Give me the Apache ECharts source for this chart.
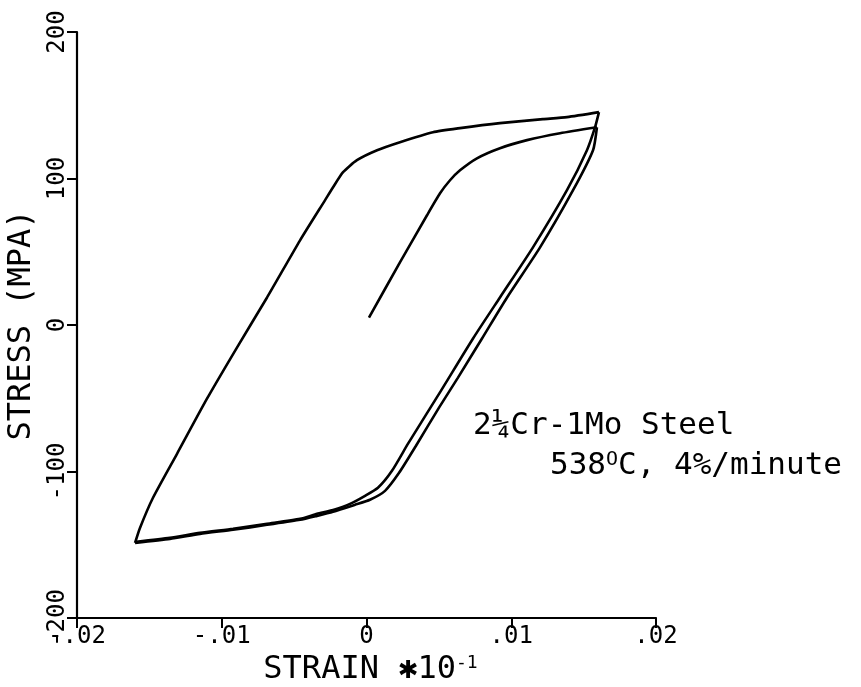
<!DOCTYPE html>
<html><head><meta charset="utf-8">
<script src="https://cdn.jsdelivr.net/npm/echarts@6/dist/echarts.min.js"></script>
<style>html,body{margin:0;padding:0;background:#fff}#c{width:861px;height:687px}</style>
</head><body><div id="c"></div>
<script>
// Tick labels
const xTickLabels = ['-.02', '-.01', '0', '.01', '.02'];
const yTickLabels = ['-200', '-100', '0', '100', '200'];

// Initial loading (strain, stress MPa)
const loadStrain = [0.00017, 0.00231, 0.00418, 0.00508, 0.00577, 0.00646, 0.00763, 0.00922, 0.01109, 0.01337, 0.01592];
const loadStress = [5.1, 42.7, 74.9, 89.9, 98.8, 105.6, 113.8, 120.7, 126.2, 130.9, 135.0];

// First unloading into compression
const unload1Strain = [0.01592, 0.01565, 0.01427, 0.01199, 0.00971, 0.00798, 0.00632, 0.00501, 0.00342, 0.00225, 0.00128, 0.00024, -0.00079, -0.00231, -0.00342, -0.00459, -0.00687, -0.00922, -0.01150, -0.01358, -0.01599];
const unload1Stress = [135.0, 119.3, 92.0, 53.0, 18.8, -9.2, -35.9, -56.4, -82.4, -100.9, -113.2, -119.3, -122.7, -127.5, -130.3, -133.0, -136.4, -139.8, -142.6, -146.0, -148.7];

// Reloading into tension
const reloadStrain = [-0.01599, -0.01565, -0.01475, -0.01309, -0.01102, -0.00895, -0.00687, -0.00459, -0.00287, -0.00231, -0.00162, -0.00066, 0.00073, 0.00231, 0.00459, 0.00646, 0.00922, 0.01219, 0.01385, 0.01606];
const reloadStress = [-148.7, -138.5, -117.9, -87.9, -50.3, -15.4, 18.8, 57.8, 85.1, 94.0, 104.3, 112.5, 119.3, 124.8, 131.6, 134.4, 137.8, 140.5, 141.9, 145.3];

// Second unloading into compression
const unload2Strain = [0.01606, 0.01579, 0.01523, 0.01385, 0.01150, 0.00922, 0.00736, 0.00515, 0.00287, 0.00176, 0.00079, -0.00010, -0.00114, -0.00231, -0.00342, -0.00459, -0.00687, -0.00922, -0.01150, -0.01358, -0.01592];
const unload2Stress = [145.3, 135.0, 119.3, 92.0, 53.0, 18.8, -9.2, -44.8, -81.0, -99.5, -111.1, -116.6, -122.1, -126.2, -128.9, -132.3, -135.7, -139.1, -141.9, -145.3, -148.0];

const zip = (a, b) => a.map((v, i) => [v, b[i]]);
const FONT = '"DejaVu Sans Mono", "Liberation Mono", monospace';

function branch(name, xs, ys) {
  return {
    name, type: 'line', data: zip(xs, ys), showSymbol: false, smooth: 0.2,
    lineStyle: { color: '#000', width: 2.6 }, itemStyle: { color: '#000' },
    silent: true
  };
}

const chart = echarts.init(document.getElementById('c'), null, { renderer: 'canvas' });
chart.setOption({
  animation: false,
  backgroundColor: '#fff',
  grid: { left: 77, right: 205, top: 32, bottom: 69, containLabel: false, outerBoundsMode: 'none' },
  xAxis: {
    type: 'value', min: -0.02, max: 0.02, interval: 0.01,
    splitLine: { show: false },
    axisLine: { show: true, onZero: false, lineStyle: { color: '#000', width: 2.2 } },
    axisTick: { show: true, inside: false, length: 10, lineStyle: { color: '#000', width: 2 } },
    axisLabel: {
      color: '#000', fontFamily: FONT, fontSize: 24, margin: 7,
      formatter: v => { const i = Math.round((v + 0.02) / 0.01); return xTickLabels[i] ?? ''; }
    },
    name: 'STRAIN ✱10{s|-1}',
    nameLocation: 'middle', nameGap: 34,
    nameTextStyle: {
      color: '#000', fontFamily: FONT, fontSize: 32, padding: [0, 0, 0, 8],
      rich: { s: { fontFamily: FONT, fontSize: 18, verticalAlign: 'top', color: '#000' } }
    }
  },
  yAxis: {
    type: 'value', min: -200, max: 200, interval: 100,
    splitLine: { show: false },
    axisLine: { show: true, onZero: false, lineStyle: { color: '#000', width: 2.2 } },
    axisTick: { show: true, inside: false, length: 10, lineStyle: { color: '#000', width: 2 } },
    axisLabel: {
      color: '#000', fontFamily: FONT, fontSize: 24, rotate: 90, margin: 7,
      formatter: v => { const i = Math.round((v + 200) / 100); return yTickLabels[i] ?? ''; }
    },
    name: 'STRESS (MPA)',
    nameLocation: 'middle', nameGap: 21, nameRotate: 90,
    nameTextStyle: { color: '#000', fontFamily: FONT, fontSize: 32, padding: [0, 0, 0, 0] }
  },
  series: [
    branch('load', loadStrain, loadStress),
    branch('unload1', unload1Strain, unload1Stress),
    branch('reload', reloadStrain, reloadStress),
    branch('unload2', unload2Strain, unload2Stress)
  ],
  graphic: [
    { type: 'text', left: 473, top: 410, silent: true,
      style: { text: '2¼Cr-1Mo Steel', font: '31px ' + FONT, fill: '#000' } },
    { type: 'text', left: 550, top: 450, silent: true,
      style: { text: '538{s|O}C, 4%/minute', font: '31px ' + FONT, fill: '#000',
        rich: { s: { fontFamily: FONT, fontSize: 20, verticalAlign: 'top', fill: '#000' } } } }
  ]
});
</script></body></html>
